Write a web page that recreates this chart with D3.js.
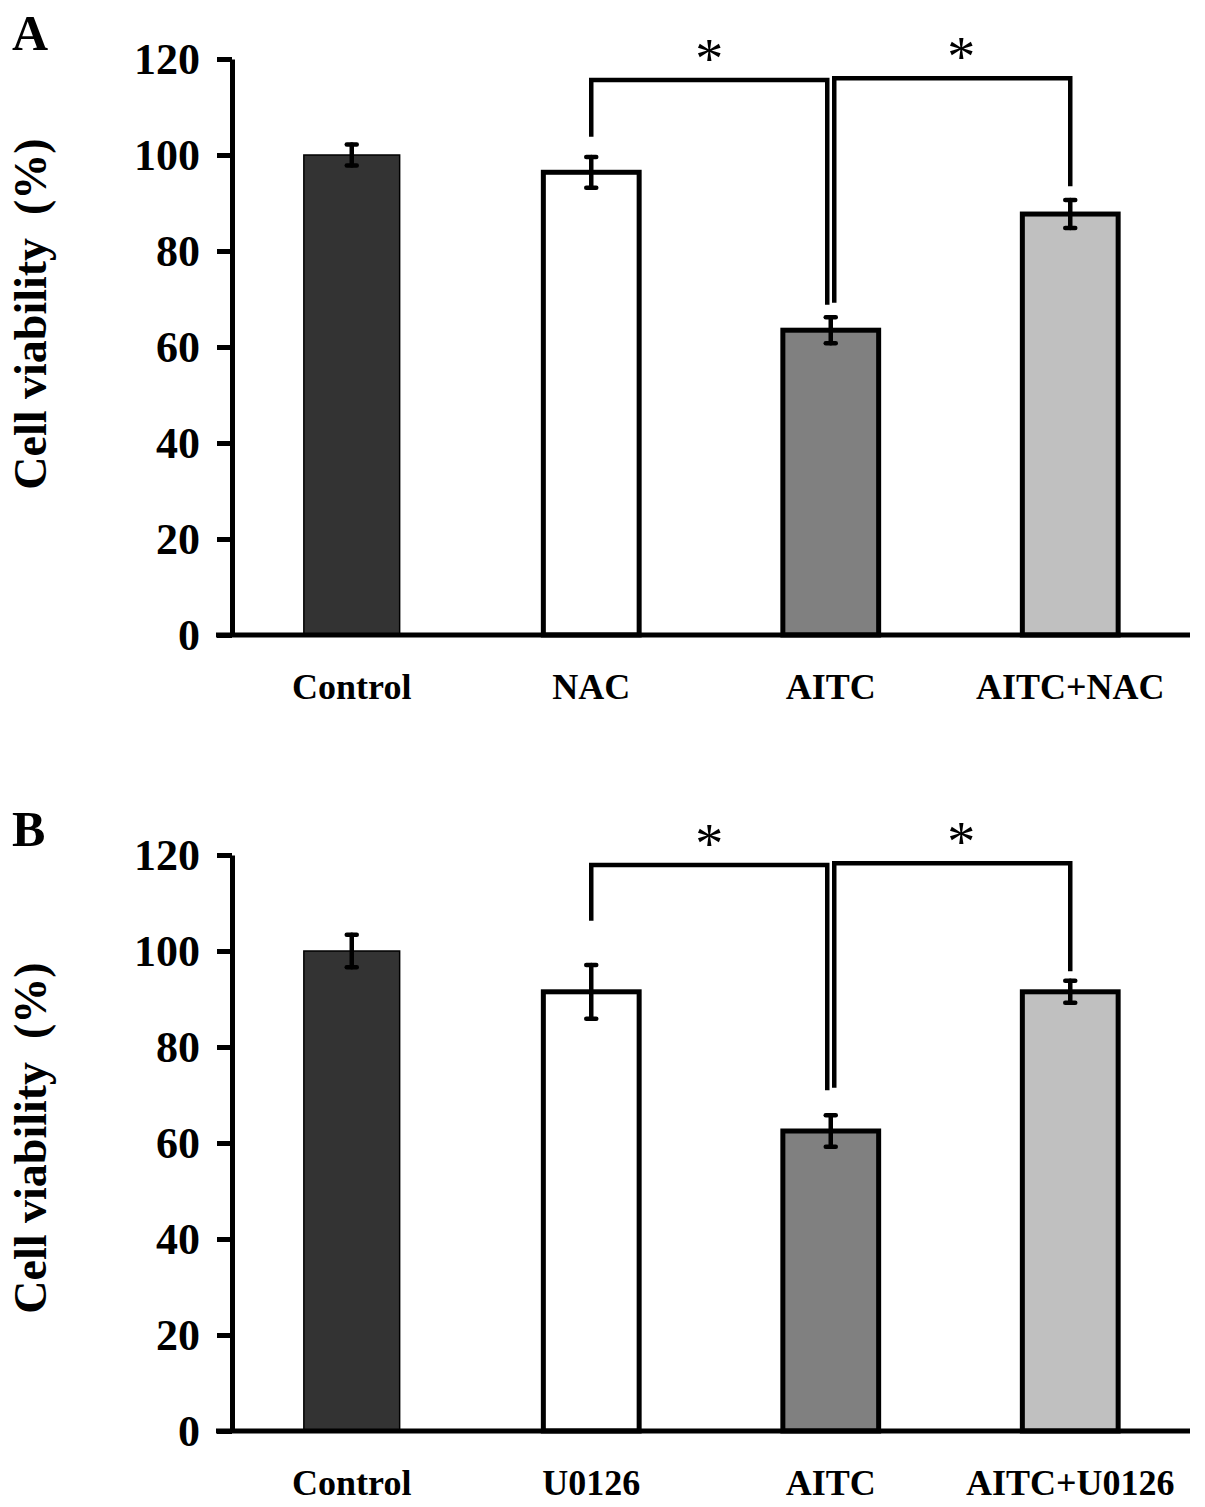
<!DOCTYPE html>
<html>
<head>
<meta charset="utf-8">
<script src="https://cdn.jsdelivr.net/npm/d3@7"></script>
<style>
  body { margin: 0; background: #fff; }
  svg { display: block; }
  text { font-family: 'Liberation Serif', 'Times New Roman', serif; }
</style>
</head>
<body>
<div id="chart"></div>
<script>
// values
const categoriesA = ['Control', 'NAC', 'AITC', 'AITC+NAC'];
const categoriesB = ['Control', 'U0126', 'AITC', 'AITC+U0126'];

const viabilityA = [100, 96.4, 63.5, 87.7];
const errorA = [2.2, 3.2, 2.7, 2.9];

const viabilityB = [100, 91.5, 62.5, 91.5];
const errorB = [3.4, 5.6, 3.3, 2.3];

const barFills = ['#333333', '#ffffff', '#808080', '#c0c0c0'];
const yTicks = [0, 20, 40, 60, 80, 100, 120];

// significance brackets: [from, to, level, leg end at from, leg end at to]
const bracketsA = [
  [1, 2, 115.6, 103.8, 68.8],
  [2, 3, 116.0, 69.2, 93.5],
];
const bracketsB = [
  [1, 2, 117.9, 106.3, 71.0],
  [2, 3, 118.3, 71.5, 95.8],
];

const width = 1205;
const height = 1507;

const svg = d3
  .select('#chart')
  .append('svg')
  .attr('width', width)
  .attr('height', height);

const drawPanel = ({ letter, top, bottom, titleMid, categories, values, errors, brackets }) => {
  const g = svg.append('g');

  const x = d3
    .scaleBand()
    .domain(categories)
    .range([232, 1190])
    .paddingInner(0.6)
    .paddingOuter(0.3);

  const y = d3.scaleLinear().domain([0, 120]).range([bottom, top]);

  const rows = categories.map((c, i) => ({
    name: c,
    value: values[i],
    err: errors[i],
    fill: barFills[i],
    first: i === 0,
  }));

  // bars
  g.selectAll('.bar')
    .data(rows)
    .enter()
    .append('rect')
    .attr('class', 'bar')
    .attr('x', (d) => x(d.name))
    .attr('width', x.bandwidth())
    .attr('y', (d) => y(d.value))
    .attr('height', (d) => y(0) - y(d.value))
    .attr('fill', (d) => d.fill)
    .attr('stroke', '#000')
    .attr('stroke-width', (d) => (d.first ? 1.5 : 5));

  // error bars
  const cx = (name) => x(name) + x.bandwidth() / 2;
  const errG = g
    .selectAll('.err')
    .data(rows)
    .enter()
    .append('g')
    .attr('class', 'err')
    .attr('stroke', '#000')
    .attr('stroke-width', 4.5)
    .attr('stroke-linecap', 'round');

  errG.append('line')
    .attr('x1', (d) => cx(d.name))
    .attr('x2', (d) => cx(d.name))
    .attr('y1', (d) => y(d.value + d.err))
    .attr('y2', (d) => y(d.value - d.err));
  errG.append('line')
    .attr('x1', (d) => cx(d.name) - 5)
    .attr('x2', (d) => cx(d.name) + 5)
    .attr('y1', (d) => y(d.value + d.err))
    .attr('y2', (d) => y(d.value + d.err));
  errG.append('line')
    .attr('x1', (d) => cx(d.name) - 5)
    .attr('x2', (d) => cx(d.name) + 5)
    .attr('y1', (d) => y(d.value - d.err))
    .attr('y2', (d) => y(d.value - d.err));

  // y axis
  const yAxis = g
    .append('g')
    .attr('transform', `translate(${232}, 0)`)
    .call(
      d3.axisLeft(y)
        .tickValues(yTicks)
        .tickSize(15)
        .tickSizeOuter(0)
        .tickPadding(17),
    );
  yAxis.select('.domain').attr('stroke-width', 5);
  yAxis.selectAll('.tick line').attr('stroke-width', 5);
  yAxis
    .selectAll('.tick text')
    .attr('font-family', "'Liberation Serif', 'Times New Roman', serif")
    .attr('font-size', 44)
    .attr('font-weight', 'bold')
    .attr('fill', '#000')
    .attr('dy', '0.34em');

  // x axis
  const xAxis = g
    .append('g')
    .attr('transform', `translate(0, ${bottom})`)
    .call(d3.axisBottom(x).tickSize(0).tickPadding(0));
  xAxis.select('.domain').remove();
  xAxis
    .append('line')
    .attr('x1', 216)
    .attr('x2', 1190)
    .attr('stroke', '#000')
    .attr('stroke-width', 5);
  xAxis
    .selectAll('.tick text')
    .attr('font-family', "'Liberation Serif', 'Times New Roman', serif")
    .attr('font-size', 36)
    .attr('font-weight', 'bold')
    .attr('fill', '#000')
    .attr('dy', 0)
    .attr('y', 64);

  // brackets
  brackets.forEach(([a, b, level, endA, endB], i) => {
    const off = 3.5;
    const xa = cx(categories[a]) + (i === 1 ? off : 0);
    const xb = cx(categories[b]) - (i === 0 ? off : 0);
    g.append('path')
      .attr('d', d3.line()([
        [xa, y(endA)],
        [xa, y(level)],
        [xb, y(level)],
        [xb, y(endB)],
      ]))
      .attr('fill', 'none')
      .attr('stroke', '#000')
      .attr('stroke-width', 4.5);
    g.append('text')
      .attr('x', (xa + xb) / 2 + (i === 1 ? 9 : 0))
      .attr('y', y(level) - 2)
      .attr('text-anchor', 'middle')
      .attr('font-size', 56)
      .text('*');
  });

  // axis title
  g.append('text')
    .attr('transform', `translate(46, ${titleMid}) rotate(-90)`)
    .attr('text-anchor', 'middle')
    .attr('font-size', 46)
    .attr('font-weight', 'bold')
    .attr('xml:space', 'preserve')
    .style('white-space', 'pre')
    .text('Cell viability  (%)');

  // panel letter
  g.append('text')
    .attr('x', 12)
    .attr('y', top - 9)
    .attr('font-size', 50)
    .attr('font-weight', 'bold')
    .text(letter);
};

drawPanel({
  letter: 'A',
  top: 59,
  bottom: 635,
  titleMid: 314,
  categories: categoriesA,
  values: viabilityA,
  errors: errorA,
  brackets: bracketsA,
});

drawPanel({
  letter: 'B',
  top: 855,
  bottom: 1431,
  titleMid: 1138,
  categories: categoriesB,
  values: viabilityB,
  errors: errorB,
  brackets: bracketsB,
});
</script>
</body>
</html>
